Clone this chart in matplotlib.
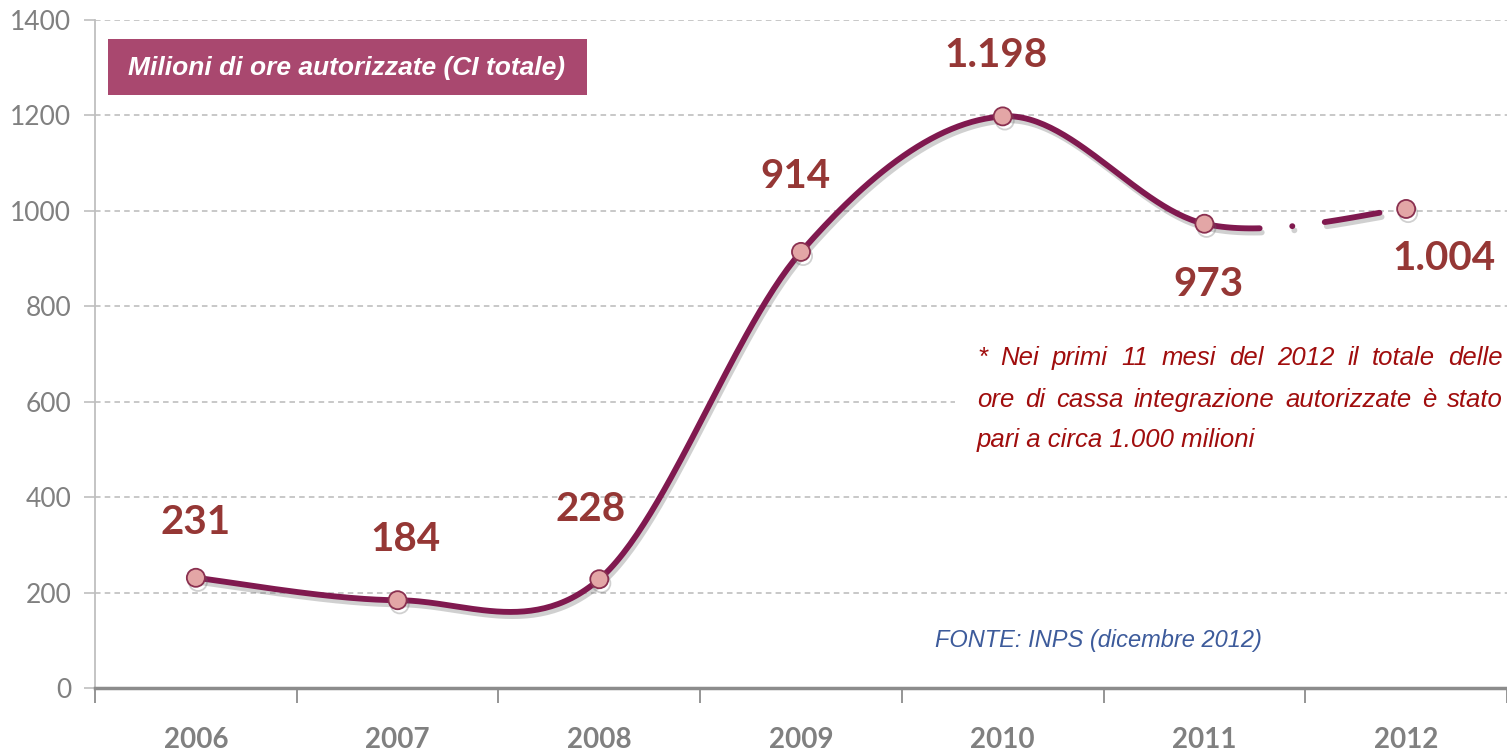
import numpy as np
import matplotlib
matplotlib.use("Agg")
import matplotlib.pyplot as plt
import matplotlib.patheffects as pe
from matplotlib.patches import Rectangle

years = ["2006", "2007", "2008", "2009", "2010", "2011", "2012"]
hours = [231, 184, 228, 914, 1198, 973, 1004]
labels = ["231", "184", "228", "914", "1.198", "973", "1.004"]
# label offsets from each point, in points
label_offsets = [(0, 40), (6, 44), (-6, 50), (-4, 54), (-5, 44), (3, -44), (27, -36)]

title = "Milioni di ore autorizzate (CI totale)"
note_lines = ["* Nei primi 11 mesi del 2012 il totale delle",
              "ore di cassa integrazione autorizzate è stato",
              "pari a circa 1.000 milioni"]
source = "FONTE: INPS (dicembre 2012)"

line_col = "#80194f"
label_col = "#953735"
grey = "#808080"

plt.rcParams["lines.scale_dashes"] = False

W, H = 1507, 750
fig = plt.figure(figsize=(W / 100, H / 100), dpi=100)
ax = fig.add_axes([95 / W, 62 / H, (W - 95) / W, 668 / H])


def smooth(xs, ys, n=60):
    # Catmull-Rom style bezier like the spreadsheet "smoothed line"
    xs = np.asarray(xs, float)
    ys = np.asarray(ys, float)
    px = np.concatenate([[xs[0]], xs, [xs[-1]]])
    py = np.concatenate([[ys[0]], ys, [ys[-1]]])
    segs = []
    for i in range(len(xs) - 1):
        p0x, p0y = px[i + 1], py[i + 1]
        p3x, p3y = px[i + 2], py[i + 2]
        c1x = p0x + (px[i + 2] - px[i]) / 6
        c1y = p0y + (py[i + 2] - py[i]) / 6
        c2x = p3x - (px[i + 3] - px[i + 1]) / 6
        c2y = p3y - (py[i + 3] - py[i + 1]) / 6
        t = np.linspace(0, 1, n)
        bx = (1 - t) ** 3 * p0x + 3 * (1 - t) ** 2 * t * c1x + 3 * (1 - t) * t ** 2 * c2x + t ** 3 * p3x
        by = (1 - t) ** 3 * p0y + 3 * (1 - t) ** 2 * t * c1y + 3 * (1 - t) * t ** 2 * c2y + t ** 3 * p3y
        segs.append((bx, by))
    return segs


x = np.arange(len(years))
segs = smooth(x, hours)
shadow = [pe.SimpleLineShadow(offset=(1.5, -3), shadow_color="#666666", alpha=0.3), pe.Normal()]

solid_x = np.concatenate([s[0] for s in segs[:-1]])
solid_y = np.concatenate([s[1] for s in segs[:-1]])
ax.plot(solid_x, solid_y, color=line_col, lw=4.2, solid_capstyle="round",
        zorder=3, path_effects=shadow)
ax.plot(segs[-1][0], segs[-1][1], color=line_col, lw=4.2, ls=(0, (40, 23.5, 0.1, 23.5)),
        dash_capstyle="round", zorder=3, path_effects=shadow)

ax.plot(x, hours, "o", ms=13, mfc="#e3a6a6", mec="#8a3050", mew=1.3, zorder=4,
        path_effects=shadow)

for xi, v, lab, off in zip(x, hours, labels, label_offsets):
    ax.annotate(lab, (xi, v), xytext=off, textcoords="offset points",
                ha="center", va="center", fontsize=29, fontweight="bold",
                family="Lato", color=label_col, zorder=5)

ax.set_xlim(-0.5, (W - 95) / 203 - 0.5)
ax.set_ylim(0, 1400)
ax.set_yticks(range(0, 1401, 200))
ax.set_xticks(np.arange(-0.5, 7, 1))
ax.set_xticks(x, minor=True)
ax.set_xticklabels([], minor=False)
ax.set_xticklabels(years, minor=True)
ax.tick_params(axis="x", which="major", length=11, width=1.3, color="#8c8c8c", direction="out")
ax.tick_params(axis="x", which="minor", length=0, pad=28, labelsize=20, labelcolor=grey)
ax.tick_params(axis="y", length=8, width=1.2, color="#bfbfbf", pad=9, labelsize=19, labelcolor=grey)
for t in ax.get_xticklabels(minor=True):
    t.set_fontweight("bold")
    t.set_family("Lato")
for t in ax.get_yticklabels():
    t.set_family("Lato")

ax.grid(axis="y", ls=(0, (4, 3)), color="#bfbfbf", lw=1.2)
ax.set_axisbelow(True)
for s in ["top", "right"]:
    ax.spines[s].set_visible(False)
ax.spines["left"].set_color("#bfbfbf")
ax.spines["left"].set_linewidth(1.3)
ax.spines["bottom"].set_color("#8c8c8c")
ax.spines["bottom"].set_linewidth(2.5)

# title box
ax.add_patch(Rectangle((108 / W, 1 - 95 / H), 479 / W, 56 / H, transform=fig.transFigure,
                       facecolor="#a9486f", edgecolor="none", zorder=5))
fig.text(347 / W, 1 - 68 / H, title, ha="center", va="center", color="white",
         fontsize=19, fontweight="bold", style="italic", family="Liberation Sans", zorder=6)

# footnote, white backdrop over the gridline
ax.add_patch(Rectangle((955 / W, 1 - 465 / H), (W - 955) / W, 130 / H, transform=fig.transFigure,
                       facecolor="white", edgecolor="none", zorder=2))

note_kw = dict(fontsize=18.5, style="italic", family="Liberation Sans", color="#a00d0d", va="center")
left, right = 977, 1503
line_y = [358, 400, 440]
fig.canvas.draw()
r = fig.canvas.get_renderer()
for i, (line, yy) in enumerate(zip(note_lines, line_y)):
    if i == len(note_lines) - 1:
        fig.text(left / W, 1 - yy / H, line, ha="left", **note_kw)
        continue
    words = line.split(" ")
    txts = [fig.text(0, 1 - yy / H, w, ha="left", **note_kw) for w in words]
    widths = [t.get_window_extent(r).width for t in txts]
    gap = (right - left - sum(widths)) / (len(words) - 1)
    pos = left
    for t, w in zip(txts, widths):
        t.set_x(pos / W)
        pos += w + gap

fig.text(1098 / W, 1 - 641 / H, source, ha="center", va="center", fontsize=17,
         style="italic", family="Liberation Sans", color="#3d5b9b")

fig.savefig("out.png", dpi=100)
